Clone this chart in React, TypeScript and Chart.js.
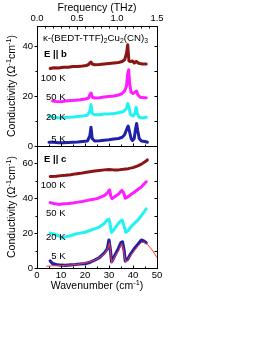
import React, { useEffect, useRef } from "react";
import { Chart, registerables } from "chart.js";

Chart.register(...registerables);

const FONT = '"Liberation Sans", Arial, Helvetica, sans-serif';

// ---------- Panel E || b (top) ----------
const b100X = [5.5, 7, 9, 11, 13, 15, 17, 19, 20.5, 21.5, 22, 22.5, 23, 24, 26, 28, 30, 32, 34, 35.5, 36.5, 37.3, 37.8, 38.3, 39, 39.8, 40.5, 41, 41.5, 42, 42.8, 44, 45.5];
const b100Y = [31, 31.3, 31.2, 31.5, 31.5, 31.8, 31.8, 32, 32.2, 32.6, 33.2, 33.6, 32.8, 32.5, 32.6, 32.8, 33, 33.2, 33.4, 33.8, 34.5, 37, 40.5, 34, 33.8, 34, 33.2, 33.6, 33.8, 33.3, 33, 32.8, 32.8];

const b50X = [6.5, 8, 10, 12, 14, 16, 18, 20, 21.5, 22, 22.5, 23, 24, 26, 28, 30, 32, 34, 35.5, 36.5, 37.3, 37.8, 38.2, 38.6, 39.2, 40, 40.8, 41.5, 42, 43, 44.5, 45.5];
const b50Y = [18, 17.8, 17.7, 18, 18.2, 18.3, 18.5, 18.8, 19.2, 20.5, 21.2, 19.6, 19.2, 19.3, 19.6, 19.8, 20, 20.4, 21, 22, 24, 29, 30.5, 25, 21.5, 21, 21.5, 22, 20.5, 19.5, 19.3, 19.3];

const b20X = [5, 7, 9, 11, 13, 15, 17, 19, 21, 22, 22.5, 23, 24, 26, 28, 30, 32, 34, 36, 37.3, 37.8, 38.3, 39, 40, 40.8, 41.3, 41.8, 42.5, 44, 45.5];
const b20Y = [11.8, 11.5, 11.3, 11.3, 11.5, 11.6, 11.8, 12, 12.3, 14, 16.5, 13, 12.5, 12.5, 12.8, 12.8, 13, 13.3, 13.8, 15, 17, 15.5, 12.5, 12, 13, 15.5, 13, 11.5, 11.2, 11.5];

const b5X = [5, 7, 9, 11, 13, 15, 17, 19, 21, 22, 22.5, 23, 24, 26, 28, 30, 32, 34, 35.5, 36.5, 37.5, 38, 38.5, 39.2, 39.8, 40.5, 41, 41.5, 42, 42.6, 43.5, 45, 46];
const b5Y = [1.5, 1.5, 1.3, 1.3, 1.4, 1.5, 1.6, 1.8, 2, 4, 7.5, 3, 2, 2.1, 2.3, 2.5, 2.8, 3, 3.5, 4.5, 7, 8, 6, 3, 2.2, 3, 6.5, 9, 6, 3, 2, 1.8, 1.5];

// ---------- Panel E || c (bottom) ----------
const c100X = [5.5, 8, 10, 12, 14, 16, 18, 20, 22, 24, 26, 28, 30, 32, 34, 36, 38, 40, 42, 43.5, 45, 46];
const c100Y = [52.5, 52.7, 53, 53.2, 53.5, 54, 54.3, 54.8, 55.2, 55.6, 56, 56.3, 56.5, 56.3, 56.3, 56.6, 57, 57.6, 58.6, 59.6, 61, 62];

const c50X = [5.5, 7, 9, 11, 13, 15, 17, 19, 21, 23, 25, 27, 28.5, 29.5, 30.2, 30.8, 31.3, 32.5, 34, 35.3, 36, 36.8, 37.5, 39, 40.5, 42, 43.5, 44.5, 45.5];
const c50Y = [37.5, 37, 36.5, 36.8, 37, 37.3, 37.8, 38.2, 38.8, 39.3, 39.8, 41, 42, 43.5, 44.8, 41, 39.8, 41, 42.5, 44.5, 43.5, 40, 40.5, 42, 43.5, 45, 46.5, 48, 49.5];

const c20X = [5.5, 7, 9, 10.5, 12, 14, 16, 18, 20, 22, 24, 26, 28, 29.3, 30, 30.6, 31, 31.8, 33, 34.5, 35.5, 36.3, 37, 38, 39, 40.5, 42, 43.5, 44.5, 45.5];
const c20Y = [20, 19.5, 18.5, 17.2, 18, 18.5, 19.5, 20, 20.5, 21.5, 22.5, 23.5, 25.5, 27.5, 28, 24, 20.5, 21.5, 24, 26.5, 27.5, 24, 20.5, 21.5, 23.5, 25.5, 27.5, 30, 32, 34];

const c5X = [5.5, 6.5, 8, 10, 12, 14, 16, 18, 20, 22, 24, 26, 28, 29.3, 30, 30.6, 31.1, 32, 33.5, 35, 35.6, 36.3, 36.8, 37.8, 39, 40.5, 42, 43.5, 44.5, 45.5];
const c5Y = [4, 2.5, 2, 1.6, 1.5, 1.8, 2, 2.3, 2.5, 3.2, 4.5, 6, 8.5, 11, 16, 10, 3.5, 6, 10, 14.5, 15, 10, 4, 5, 8, 11, 13.5, 16, 15.5, 14.5];

const fitX = [4, 6, 8, 10, 12, 14, 16, 18, 20, 22, 24, 26, 28, 29.5, 30.2, 30.7, 31.1, 32, 34, 35.3, 35.8, 36.5, 37, 38, 40, 42, 43.5, 44.5, 46, 48, 50];
const fitY = [1, 1.2, 1.3, 1.4, 1.5, 1.7, 2, 2.4, 2.8, 3.5, 4.5, 6, 8, 11, 14.5, 8, 3, 5.5, 10, 14, 12, 6, 3.5, 5, 9, 12.5, 14.5, 14.8, 13.5, 10.3, 6];

// series labels
const topTempLabels = ["100 K", "50 K", "20 K", "5 K"];
const botTempLabels = ["100 K", "50 K", "20 K", "5 K"];

const C_100 = "#8b1414";
const C_50 = "#ff1eff";
const C_20 = "#22f2f2";
const C_5 = "#1f22a6";
const C_FIT = "#ff3a3a";

type Run = [string, number]; // 0 normal, 1 sub, 2 sup

function runsWidth(ctx: CanvasRenderingContext2D, runs: Run[], size: number, weight: string) {
  let w = 0;
  for (const [t, k] of runs) {
    const s = k === 0 ? size : size * 0.7;
    ctx.font = `${weight} ${s}px ${FONT}`;
    w += ctx.measureText(t).width;
  }
  return w;
}

function drawRuns(ctx: CanvasRenderingContext2D, runs: Run[], x: number, y: number, size: number, weight = "normal", align = "left") {
  const w = runsWidth(ctx, runs, size, weight);
  let cx = align === "center" ? x - w / 2 : align === "right" ? x - w : x;
  ctx.textAlign = "left";
  ctx.textBaseline = "alphabetic";
  for (const [t, k] of runs) {
    const s = k === 0 ? size : size * 0.7;
    ctx.font = `${weight} ${s}px ${FONT}`;
    const dy = k === 1 ? size * 0.3 : k === 2 ? -size * 0.42 : 0;
    ctx.fillText(t, cx, y + dy);
    cx += ctx.measureText(t).width;
  }
}

const yTitle: Run[] = [["Conductivity (\u03A9", 0], ["-1", 2], ["cm", 0], ["-1", 2], [")", 0]];
const xTitle: Run[] = [["Wavenumber (cm", 0], ["-1", 2], [")", 0]];
const formula: Run[] = [["\u03BA-(BEDT-TTF)", 0], ["2", 1], ["Cu", 0], ["2", 1], ["(CN)", 0], ["3", 1]];

function makeDecor(panel: "b" | "c") {
  return {
    id: "decor" + panel,
    afterDraw(chart: any) {
      const ctx: CanvasRenderingContext2D = chart.ctx;
      const a = chart.chartArea;
      const xs = chart.scales.x;
      const ys = chart.scales.y;
      ctx.save();
      ctx.strokeStyle = "#000";
      ctx.fillStyle = "#000";
      ctx.lineWidth = 1;
      ctx.strokeRect(a.left + 0.5, a.top + 0.5, a.right - a.left, a.bottom - a.top);
      const line = (x1: number, y1: number, x2: number, y2: number) => {
        ctx.beginPath();
        ctx.moveTo(x1, y1);
        ctx.lineTo(x2, y2);
        ctx.stroke();
      };
      const L = a.left + 0.5, R = a.right + 0.5, T = a.top + 0.5, B = a.bottom + 0.5;
      for (let v = 0; v <= ys.max; v += 10) {
        const py = Math.round(ys.getPixelForValue(v)) + 0.5;
        const major = v % 20 === 0;
        line(L - (major ? 3 : 2), py, L, py);
        line(R - 3, py, R, py);
      }
      for (let v = 0; v <= 50; v += 5) {
        const px = Math.round(xs.getPixelForValue(v)) + 0.5;
        const len = v % 10 === 0 ? 3 : 2;
        line(px, B - len, px, B);
      }
      if (panel === "b") {
        const f = chart.scales.xf;
        for (let i = 0; i <= 15; i++) {
          const px = Math.round(f.getPixelForValue(i / 10)) + 0.5;
          const len = i % 5 === 0 ? 3 : 2;
          line(px, T, px, T + len);
        }
      }
      // y title
      ctx.save();
      ctx.translate(15, (a.top + a.bottom) / 2);
      ctx.rotate(-Math.PI / 2);
      drawRuns(ctx, yTitle, 0, 0, 10.5, "normal", "center");
      ctx.restore();

      const lx = a.left + 28.5;
      if (panel === "b") {
        drawRuns(ctx, formula, a.left + 6, a.top + 14.5, 9.7);
        drawRuns(ctx, [["E || b", 0]], a.left + 7, a.top + 30.5, 9.5, "bold");
        const offs = [55, 74, 94, 115.5];
        topTempLabels.forEach((t, i) => drawRuns(ctx, [[t, 0]], lx, a.top + offs[i], 9.5, "normal", "right"));
      } else {
        drawRuns(ctx, [["E || c", 0]], a.left + 7, a.top + 16, 9.5, "bold");
        const offs = [42.3, 69.7, 93.5, 113];
        botTempLabels.forEach((t, i) => drawRuns(ctx, [[t, 0]], lx, a.top + offs[i], 9.5, "normal", "right"));
        drawRuns(ctx, xTitle, (a.left + a.right) / 2, a.bottom + 21, 10.5, "normal", "center");
      }
      ctx.restore();
    },
  };
}

const ds = (xs: number[], ys: number[], color: string, width = 3, order = 1) => ({
  data: xs.map((x, i) => ({ x, y: ys[i] })),
  borderColor: color,
  backgroundColor: color,
  borderWidth: width,
  pointRadius: 0,
  fill: false,
  tension: 0,
  order,
  xAxisID: "x",
  yAxisID: "y",
  borderJoinStyle: "round",
  borderCapStyle: "round",
});

const tickFont = { family: FONT, size: 9.5 };
const noGrid = { display: false, drawTicks: false };
const noBorder = { display: false };

export default function App() {
  const topRef = useRef<HTMLCanvasElement>(null);
  const botRef = useRef<HTMLCanvasElement>(null);

  useEffect(() => {
    const top = new Chart(topRef.current as HTMLCanvasElement, {
      type: "line",
      data: {
        datasets: [
          ds(b100X, b100Y, C_100),
          ds(b50X, b50Y, C_50),
          ds(b20X, b20Y, C_20),
          ds(b5X, b5Y, C_5),
        ] as any,
      },
      options: {
        responsive: false,
        animation: false,
        events: [],
        layout: { padding: { left: 0, right: 105, top: 0, bottom: 0 } },
        plugins: { legend: { display: false }, tooltip: { enabled: false } },
        scales: {
          x: {
            type: "linear", position: "bottom", min: 0, max: 50,
            ticks: { display: false }, grid: noGrid, border: noBorder,
            afterFit: (s: any) => { s.height = 14; },
          },
          xf: {
            type: "linear", axis: "x", position: "top", min: 0, max: 1.5,
            ticks: { stepSize: 0.5, callback: (v: any) => Number(v).toFixed(1), font: tickFont, color: "#000", padding: 1.5, maxRotation: 0, autoSkip: false },
            grid: noGrid, border: noBorder,
            title: { display: true, text: "Frequency (THz)", font: { family: FONT, size: 10.5, lineHeight: 1 }, color: "#000", padding: { top: 2.5, bottom: 0 } },
            afterFit: (s: any) => { s.height = 26; },
          },
          y: {
            type: "linear", position: "left", min: 0, max: 48,
            ticks: { stepSize: 20, includeBounds: false, font: tickFont, color: "#000", padding: 4 },
            grid: noGrid, border: noBorder,
            afterFit: (s: any) => { s.width = 37; },
          },
        } as any,
      },
      plugins: [makeDecor("b")],
    });

    const bot = new Chart(botRef.current as HTMLCanvasElement, {
      type: "line",
      data: {
        datasets: [
          ds(c100X, c100Y, C_100),
          ds(c50X, c50Y, C_50),
          ds(c20X, c20Y, C_20),
          ds(c5X, c5Y, C_5, 3.2),
          ds(fitX, fitY, C_FIT, 1, 0),
        ] as any,
      },
      options: {
        responsive: false,
        animation: false,
        events: [],
        layout: { padding: { left: 0, right: 105, top: 12, bottom: 0 } },
        plugins: { legend: { display: false }, tooltip: { enabled: false } },
        scales: {
          x: {
            type: "linear", position: "bottom", min: 0, max: 50,
            ticks: { stepSize: 10, font: tickFont, color: "#000", padding: 2, maxRotation: 0, autoSkip: false },
            grid: noGrid, border: noBorder,
            afterFit: (s: any) => { s.height = 26; },
          },
          y: {
            type: "linear", position: "left", min: 0, max: 70,
            ticks: { stepSize: 20, includeBounds: false, font: tickFont, color: "#000", padding: 4 },
            grid: noGrid, border: noBorder,
            afterFit: (s: any) => { s.width = 37; },
          },
        } as any,
      },
      plugins: [makeDecor("c")],
    });

    return () => {
      top.destroy();
      bot.destroy();
    };
  }, []);

  return (
    <div style={{ position: "absolute", left: 0, top: 0, width: 262, height: 339, background: "#fff" }}>
      <canvas ref={topRef} width={262} height={160} style={{ position: "absolute", left: 0, top: 0 }} />
      <canvas ref={botRef} width={262} height={160} style={{ position: "absolute", left: 0, top: 134 }} />
    </div>
  );
}
